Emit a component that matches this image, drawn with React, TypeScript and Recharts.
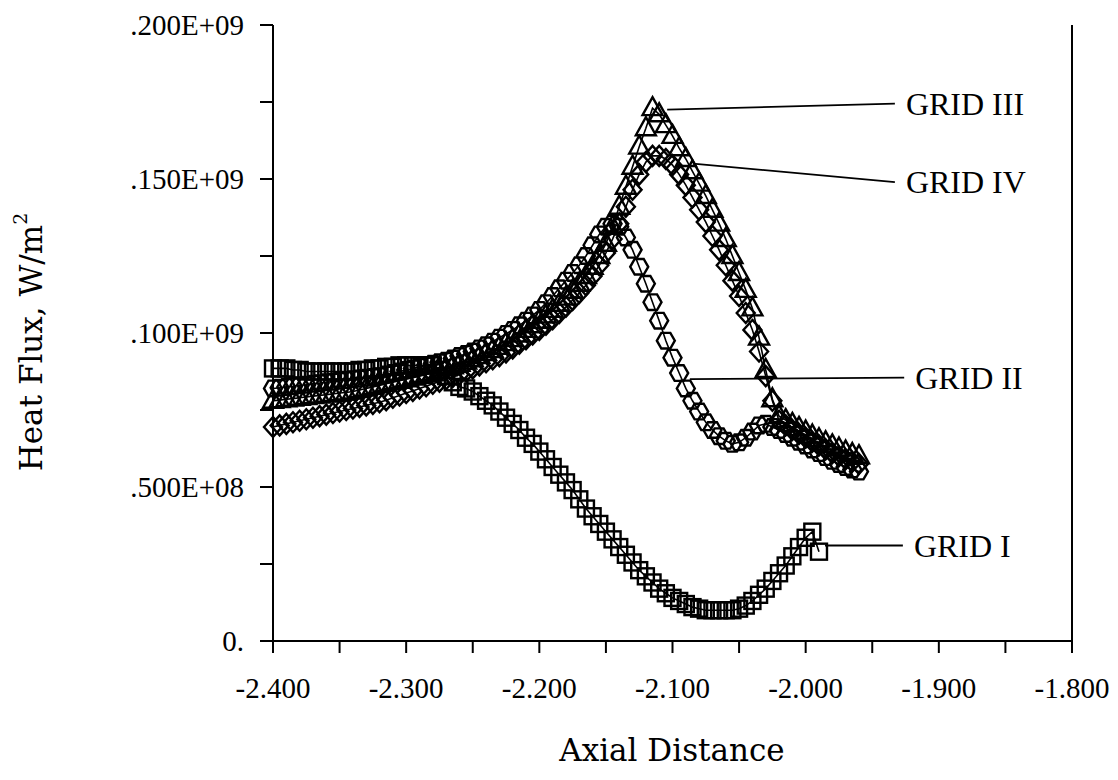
import React from "react";
import {
  ScatterChart,
  Scatter,
  XAxis,
  YAxis,
  ReferenceLine,
  ReferenceDot,
} from "recharts";

// axial positions shared by the grids (step 0.005)
const axialX = [
  -2.4, -2.395, -2.39, -2.385, -2.38, -2.375, -2.37, -2.365, -2.36, -2.355, -2.35, -2.345, -2.34, -2.335,
  -2.33, -2.325, -2.32, -2.315, -2.31, -2.305, -2.3, -2.295, -2.29, -2.285, -2.28, -2.275, -2.27, -2.265,
  -2.26, -2.255, -2.25, -2.245, -2.24, -2.235, -2.23, -2.225, -2.22, -2.215, -2.21, -2.205, -2.2, -2.195,
  -2.19, -2.185, -2.18, -2.175, -2.17, -2.165, -2.16, -2.155, -2.15, -2.145, -2.14, -2.135, -2.13, -2.125,
  -2.12, -2.115, -2.11, -2.105, -2.1, -2.095, -2.09, -2.085, -2.08, -2.075, -2.07, -2.065, -2.06, -2.055,
  -2.05, -2.045, -2.04, -2.035, -2.03, -2.025, -2.02, -2.015, -2.01, -2.005, -2.0, -1.995, -1.99, -1.985,
  -1.98, -1.975, -1.97, -1.965, -1.96,
];

// heat flux in 1e6 W/m^2 (so 200 -> .200E+09)
const gridIFlux = [
  88.5, 88.5, 88.5, 88, 88, 87.5, 87.5, 87.5, 87.5, 87.5, 87.5, 87.5, 87.5, 88,
  88, 88.5, 88.5, 89, 89, 89.5, 89.5, 89.5, 89.5, 89.5, 89.5, 88, 86, 84,
  82.5, 82, 81, 79.5, 78, 76.5, 74.5, 72.5, 70.5, 68.5, 66, 64, 61.5, 59,
  56.5, 54, 51.5, 49, 46, 43, 40.5, 38, 35.5, 33, 30.5, 28, 25.5, 23,
  21, 19, 17, 15.5, 14, 13, 12, 11, 10.5, 10, 10, 10, 10, 10,
  10.5, 11.5, 13, 15, 17, 19.5, 22, 24.5, 27.5, 30.5, 33.5, 35.5, 29,
];

const gridIIFlux = [
  82, 82.2, 82.5, 82.7, 83, 83.2, 83.5, 83.7, 84, 84.2, 84.5, 84.7, 85, 85.2,
  85.5, 85.7, 86, 86.5, 87, 87.5, 88, 88.5, 89, 89.5, 90, 90.5, 91, 91.7,
  92.5, 93.2, 94, 95, 96, 97.2, 98.5, 99.7, 101, 102.5, 104, 105.7, 107.5, 109.7,
  112, 114.5, 117, 119.5, 122, 125, 128.5, 132, 134.5, 135.5, 134.5, 131, 127, 121.5,
  116, 110, 104, 97.5, 92, 87, 82, 78, 74.5, 71, 68.5, 66.5, 65, 64,
  64.5, 66, 68, 70, 70.5, 69.5, 68.5, 67.2, 66, 64.7, 63.5, 62.2, 61, 59.7,
  58.5, 57.5, 56.5, 55.7, 55,
];

const gridIIIFlux = [
  78, 78.2, 78.5, 78.7, 79, 79.2, 79.5, 79.7, 80, 80.2, 80.5, 80.7, 81, 81.5,
  82, 82.5, 83, 83.5, 84, 84.5, 85, 85.5, 86, 86.5, 87, 87.7, 88.5, 89.2,
  90, 90.7, 91.5, 92.5, 93.5, 94.5, 95.5, 96.7, 98, 99.5, 101, 102.5, 104, 105.7,
  107.5, 109.5, 111.5, 113.7, 116, 118.5, 121.5, 125, 129, 134.5, 141, 147.5, 154, 160.5,
  166.5, 173, 171, 167.5, 164, 160, 156.5, 152.5, 148.5, 144.5, 140, 135.5, 130.5, 125,
  119.5, 114, 108, 98.5, 88, 78.5, 73, 71.7, 70.5, 69.2, 68, 66.7, 65.5, 64.5,
  63.5, 62.5, 61.5, 60.7, 60,
];

const gridIVFlux = [
  69.5, 70, 70.5, 71, 71.5, 72, 72.5, 73, 73.5, 74, 74.5, 75, 75.5, 76,
  76.5, 77, 77.5, 78.2, 79, 79.7, 80.5, 81.2, 82, 82.7, 83.5, 84.2, 85, 85.7,
  86.5, 87.5, 88.5, 89.5, 90.5, 91.5, 92.5, 93.7, 95, 96.5, 98, 99.5, 101, 102.7,
  104.5, 106.5, 108.5, 110.7, 113, 115.5, 118.5, 122, 126, 130.5, 135.5, 141, 146.5, 151.5,
  155.5, 157.5, 157.5, 156.5, 154.5, 151.5, 148, 144, 140, 136, 131.5, 127, 122, 117,
  112, 106.5, 101, 94, 86, 78, 71.5, 70, 68.5, 67.2, 66, 64.7, 63.5, 62.2,
  61, 60, 59, 58.2, 57.5,
];

const xTicks = [-2.4, -2.35, -2.3, -2.25, -2.2, -2.15, -2.1, -2.05, -2.0, -1.95, -1.9, -1.85, -1.8];
const yTicks = [0, 25, 50, 75, 100, 125, 150, 175, 200];

// leader lines to the series names
const labelNames = ["GRID III", "GRID IV", "GRID II", "GRID I"];
const leaderFromX = [-2.104, -2.0846, -2.087, -1.9855];
const leaderFromY = [172.5, 155, 85, 31];
const leaderToX = [-1.933, -1.933, -1.926, -1.927];
const leaderToY = [174.5, 149, 85.5, 31];

const SERIF = '"Liberation Serif", "Times New Roman", serif';
const TITLE = '"DejaVu Serif", serif';

const toPoints = (ys: number[]) => ys.map((y, i) => ({ x: axialX[i], y }));

const fmtX = (v: number) => (Math.round(v * 1000) % 100 === 0 ? v.toFixed(3) : "");
const fmtY = (v: number) => {
  if (v === 0) return "0.";
  if (v % 50 !== 0) return "";
  return v >= 100 ? `.${v}E+09` : `.${v * 10}E+08`;
};

const mark = { fill: "none", stroke: "#000", strokeWidth: 2.4 };

const SquareMark = (p: any) => (
  <rect x={p.cx - 8} y={p.cy - 8} width={16} height={16} {...mark} />
);

const HexMark = (p: any) => {
  const pts = [];
  for (let k = 0; k < 6; k++) {
    const a = (Math.PI / 3) * k;
    pts.push(`${p.cx + 9 * Math.cos(a)},${p.cy + 9 * Math.sin(a)}`);
  }
  return <polygon points={pts.join(" ")} {...mark} />;
};

const TriMark = (p: any) => (
  <polygon
    points={`${p.cx},${p.cy - 11} ${p.cx + 10},${p.cy + 7} ${p.cx - 10},${p.cy + 7}`}
    {...mark}
  />
);

const DiamondMark = (p: any) => (
  <polygon
    points={`${p.cx},${p.cy - 10} ${p.cx + 9},${p.cy} ${p.cx},${p.cy + 10} ${p.cx - 9},${p.cy}`}
    {...mark}
  />
);

export default function App() {
  return (
    <div style={{ position: "absolute", left: 0, top: 0, width: 1118, height: 780, background: "#fff" }}>
      <ScatterChart width={1118} height={780} margin={{ top: 25, right: 46, left: 0, bottom: 0 }}>
        <XAxis
          dataKey="x"
          type="number"
          domain={[-2.4, -1.8]}
          ticks={xTicks}
          tickFormatter={fmtX}
          interval={0}
          height={139}
          tickSize={12}
          tickMargin={24}
          axisLine={{ stroke: "#000", strokeWidth: 2 }}
          tickLine={{ stroke: "#000", strokeWidth: 2 }}
          tick={{ fill: "#000", fontSize: 29, fontFamily: SERIF }}
          label={() => (
            <text x={672} y={752} textAnchor="middle" dominantBaseline="middle" fontFamily={TITLE} fontSize={31} fill="#000">
              Axial Distance
            </text>
          )}
        />
        <YAxis
          dataKey="y"
          type="number"
          domain={[0, 200]}
          ticks={yTicks}
          tickFormatter={fmtY}
          interval={0}
          width={273}
          tickSize={13}
          tickMargin={16}
          axisLine={{ stroke: "#000", strokeWidth: 2 }}
          tickLine={{ stroke: "#000", strokeWidth: 2 }}
          tick={{ fill: "#000", fontSize: 29, fontFamily: SERIF }}
          label={() => (
            <text
              x={33}
              y={342}
              transform="rotate(-90 33 342)"
              textAnchor="middle"
              dominantBaseline="middle"
              fontFamily={TITLE}
              fontSize={31}
              fill="#000"
            >
              Heat Flux, W/m
              <tspan baselineShift="super" fontSize={19}>2</tspan>
            </text>
          )}
        />
        <ReferenceLine x={-1.8} stroke="#000" strokeWidth={2} />

        <Scatter
          data={toPoints(gridIFlux)}
          shape={SquareMark}
          line={{ stroke: "#000", strokeWidth: 1.6 }}
          isAnimationActive={false}
        />
        <Scatter
          data={toPoints(gridIIFlux)}
          shape={HexMark}
          line={{ stroke: "#000", strokeWidth: 1.6 }}
          isAnimationActive={false}
        />
        <Scatter
          data={toPoints(gridIIIFlux)}
          shape={TriMark}
          line={{ stroke: "#000", strokeWidth: 1.6 }}
          isAnimationActive={false}
        />
        <Scatter
          data={toPoints(gridIVFlux)}
          shape={DiamondMark}
          line={{ stroke: "#000", strokeWidth: 1.6 }}
          isAnimationActive={false}
        />

        {labelNames.map((name, i) => (
          <ReferenceLine
            key={`l-${name}`}
            segment={[
              { x: leaderFromX[i], y: leaderFromY[i] },
              { x: leaderToX[i], y: leaderToY[i] },
            ]}
            stroke="#000"
            strokeWidth={1.8}
          />
        ))}
        {labelNames.map((name, i) => (
          <ReferenceDot
            key={`t-${name}`}
            x={leaderToX[i]}
            y={leaderToY[i]}
            r={0}
            fill="none"
            stroke="none"
            label={{
              value: name,
              position: "right",
              offset: 11,
              fontSize: 32,
              fontFamily: SERIF,
              fill: "#000",
            }}
          />
        ))}
      </ScatterChart>
    </div>
  );
}
